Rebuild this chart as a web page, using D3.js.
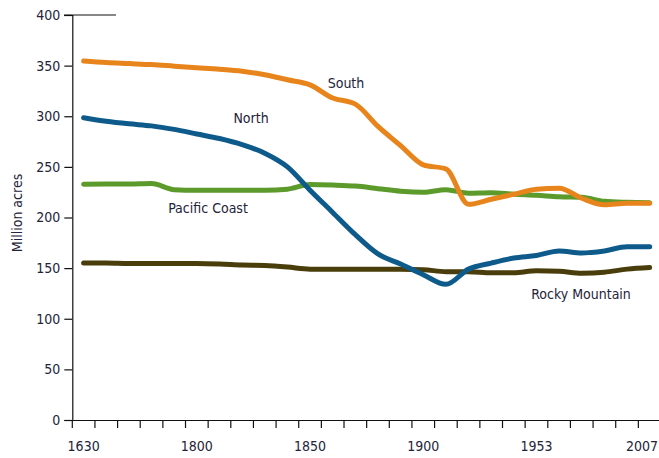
<!DOCTYPE html>
<html>
<head>
<meta charset="utf-8">
<script src="https://cdn.jsdelivr.net/npm/d3@7"></script>
<style>
  html, body { margin: 0; padding: 0; background: #fff; }
  svg text { font-family: "DejaVu Sans Condensed", "Liberation Sans Narrow", sans-serif; fill: #24233a; }
</style>
</head>
<body>
<svg id="chart" width="659" height="458"></svg>
<script>
// ---- Data ----
const years = ["1630","1670","1700","1730","1770","1800","1810","1820","1830","1840",
               "1850","1860","1870","1880","1890","1900","1907","1920","1930","1938",
               "1953","1963","1977","1987","1997","2007"];
const shownYears = ["1630","1800","1850","1900","1953","2007"];
const yTicks = [0, 50, 100, 150, 200, 250, 300, 350, 400];

const south   = [354.5, 353, 352, 351, 349.5, 348, 346.5, 344.5, 341, 336,
                 331, 318, 312, 290, 271, 252, 248, 213, 218, 223,
                 228, 229, 219, 212.5, 214, 214];
const north   = [298.5, 295, 292.5, 290.5, 287, 282.5, 278, 272, 263.5, 250,
                 227, 205, 183, 164, 154, 143.5, 134, 149, 155, 160,
                 162.5, 167, 165, 167, 171, 171];
const pacific = [232.8, 233, 233, 233.5, 227.5, 227, 227, 227, 227, 228,
                 232.5, 232, 231, 228.5, 226, 225, 227.5, 224, 224.5, 223,
                 222, 220.5, 220, 216, 215, 214.6];
const rocky   = [155, 155, 154.5, 154.5, 154.5, 154.5, 154, 153, 152.5, 151,
                 149, 149, 149, 149, 149, 148.5, 146.5, 146.5, 145.5, 145.5,
                 147.5, 147, 145, 146, 149, 150.5];

const seriesNames  = ["South", "North", "Pacific Coast", "Rocky Mountain"];
const seriesValues = [south, north, pacific, rocky];
const seriesColors = ["#e8841c", "#0d5a8b", "#5b9a2b", "#4a3d0c"];
const labelPos = [[346, 83], [251, 118], [208, 208], [581, 294]];

// ---- Layout ----
const svg = d3.select("#chart");
const x = d3.scaleBand().domain(years).range([72.3, 661]).padding(0);
const y = d3.scaleLinear().domain([0, 400]).range([420, 15]);

// Y axis
const yAxis = d3.axisLeft(y).tickValues(yTicks).tickSize(8).tickPadding(4).tickFormat(d3.format("d"));
const gy = svg.append("g").attr("transform", "translate(72.3,0)").call(yAxis);
gy.select(".domain").attr("stroke", "#111").attr("stroke-width", 1.2);
gy.selectAll(".tick line").attr("stroke", "#111").attr("stroke-width", 1.2);
gy.selectAll(".tick text").style("font-size", "14px").attr("fill", "#24233a");

// short top line at 400
svg.append("line").attr("x1", 64).attr("x2", 116).attr("y1", y(400)).attr("y2", y(400))
  .attr("stroke", "#111").attr("stroke-width", 1.2);

// X axis
const xAxis = d3.axisBottom(x).tickSize(0).tickPadding(21)
  .tickFormat(d => shownYears.includes(d) ? d : "");
const gx = svg.append("g").attr("transform", "translate(0,420)").call(xAxis);
gx.select(".domain").attr("stroke", "#111").attr("stroke-width", 1.2);
gx.selectAll(".tick text").style("font-size", "14px").attr("fill", "#24233a");
// keep the last label inside the picture
gx.selectAll(".tick").filter(d => d === years[years.length - 1]).select("text")
  .attr("text-anchor", "end").attr("x", 658 - (x(years[years.length - 1]) + x.bandwidth() / 2));
// tick marks at band boundaries
const bounds = years.map(d => x(d)).concat([x(years[years.length - 1]) + x.bandwidth()]);
gx.selectAll(".bt").data(bounds).enter().append("line")
  .attr("x1", d => d).attr("x2", d => d).attr("y1", 0).attr("y2", 8)
  .attr("stroke", "#111").attr("stroke-width", 1.2);

// Y label
svg.append("text")
  .attr("transform", "translate(22,213) rotate(-90)")
  .attr("text-anchor", "middle")
  .style("font-size", "14px")
  .text("Million acres");

// Lines
const line = d3.line()
  .x((d, i) => x(years[i]) + x.bandwidth() / 2)
  .y(d => y(d))
  .curve(d3.curveMonotoneX);

const order = [3, 2, 1, 0];
order.forEach(k => {
  svg.append("path")
    .datum(seriesValues[k])
    .attr("d", line)
    .attr("fill", "none")
    .attr("stroke", seriesColors[k])
    .attr("stroke-width", 5)
    .attr("stroke-linecap", "round")
    .attr("stroke-linejoin", "round");
});

// Series labels
seriesNames.forEach((n, k) => {
  svg.append("text")
    .attr("x", labelPos[k][0]).attr("y", labelPos[k][1] + 5)
    .attr("text-anchor", "middle")
    .style("font-size", "14px")
    .text(n);
});
</script>
</body>
</html>
